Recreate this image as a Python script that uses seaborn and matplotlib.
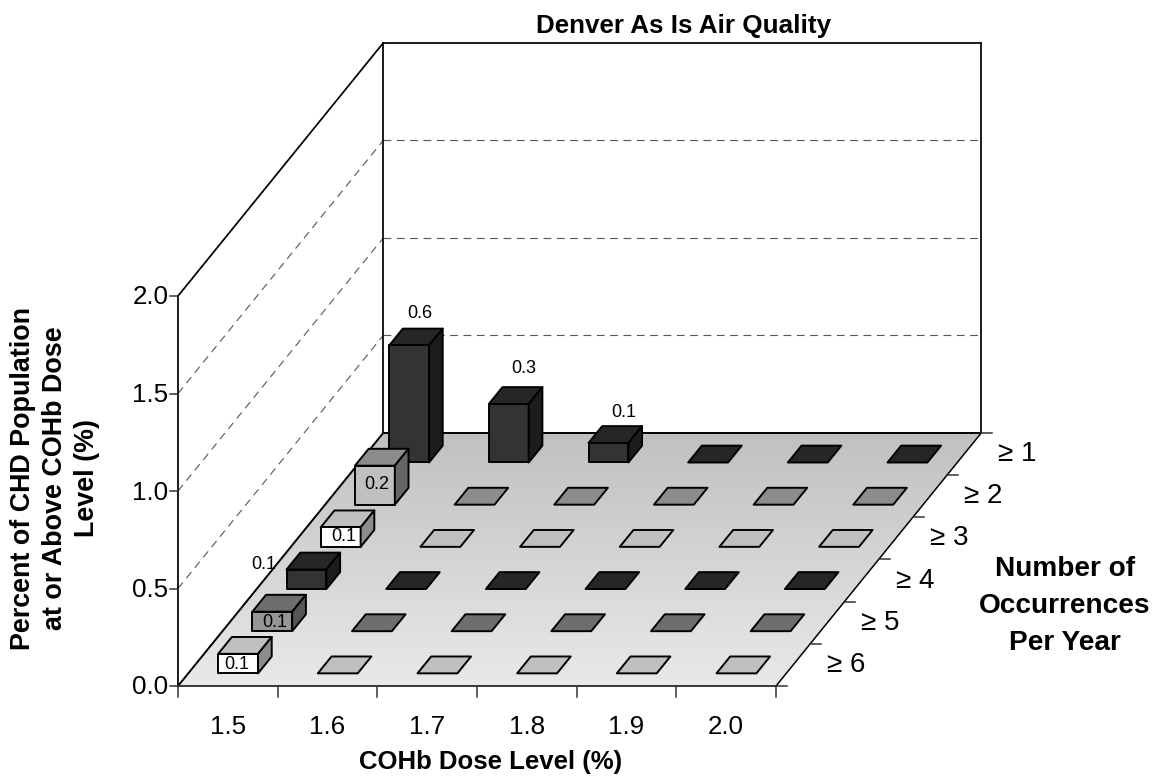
import numpy as np
import pandas as pd
import matplotlib
matplotlib.use("Agg")
import matplotlib.pyplot as plt
from matplotlib.patches import Polygon
import seaborn as sns

# values, back row first
dose_levels = ["1.5", "1.6", "1.7", "1.8", "1.9", "2.0"]
occurrences = ["≥ 1", "≥ 2", "≥ 3", "≥ 4", "≥ 5", "≥ 6"]
row_1 = [0.6, 0.3, 0.1, 0, 0, 0]
row_2 = [0.2, 0, 0, 0, 0, 0]
row_3 = [0.1, 0, 0, 0, 0, 0]
row_4 = [0.1, 0, 0, 0, 0, 0]
row_5 = [0.1, 0, 0, 0, 0, 0]
row_6 = [0.1, 0, 0, 0, 0, 0]
z_ticks = [0.0, 0.5, 1.0, 1.5, 2.0]

# per row colours: front, top, side
front_colors = ["#333333", "#c0c0c0", "#ffffff", "#333333", "#969696", "#ffffff"]
top_colors = ["#262626", "#8c8c8c", "#c0c0c0", "#262626", "#6e6e6e", "#c0c0c0"]
side_colors = ["#1c1c1c", "#666666", "#8c8c8c", "#1c1c1c", "#555555", "#8c8c8c"]

# hand placed value labels in the original, (row, col): pixel offset
label_offsets = {
    (0, 0): (4, -25), (0, 1): (8, -28), (0, 2): (8, -23),
    (1, 0): (-5, 26), (2, 0): (-3.5, 17), (3, 0): (-50, 2),
    (4, 0): (-4, 18), (5, 0): (-8, 18),
}

df = pd.DataFrame([row_1, row_2, row_3, row_4, row_5, row_6],
                  index=occurrences, columns=dose_levels)
long_df = df.reset_index(names="occ").melt(id_vars="occ", var_name="dose", value_name="pct")

sns.set_style("white")
plt.rcParams["font.family"] = ["Liberation Sans", "DejaVu Sans"]
plt.rcParams["text.color"] = "black"

fig = plt.figure(figsize=(11.59, 7.82), dpi=100)
ax = fig.add_axes([0, 0, 1, 1])
ax.axis("off")

# oblique projection, pixels of the page
X0, Y0 = 178, 686
COL_W, DEPTH_X, DEPTH_Y, UNIT_Z = 99.67, 34.2, 42.17, 195
n_cols, n_rows = len(dose_levels), len(occurrences)


def proj(col, depth, z=0):
    return X0 + col * COL_W + depth * DEPTH_X, Y0 - depth * DEPTH_Y - z * UNIT_Z


def seg(a, b, **kw):
    ax.plot([a[0], b[0]], [a[1], b[1]], solid_capstyle="projecting", **kw)


# floor with a gradient
floor_pts = [proj(0, 0), proj(n_cols, 0), proj(n_cols, n_rows), proj(0, n_rows)]
grad = np.linspace(0, 1, 256).reshape(-1, 1)
fl = ax.imshow(grad, cmap=sns.blend_palette(["#c0c0c0", "#e9e9e9"], as_cmap=True),
               extent=[X0, proj(n_cols, n_rows)[0], Y0, proj(0, n_rows)[1]],
               aspect="auto", vmin=0, vmax=1, zorder=1)
fl.set_clip_path(Polygon(floor_pts, transform=ax.transData))

# walls
wall = dict(color="black", lw=1.25, zorder=2)
z_top = z_ticks[-1]
seg(proj(0, 0), proj(0, 0, z_top), **wall)
seg(proj(0, 0, z_top), proj(0, n_rows, z_top), **wall)
seg(proj(0, n_rows), proj(0, n_rows, z_top), **wall)
seg(proj(0, n_rows, z_top), proj(n_cols, n_rows, z_top), **wall)
seg(proj(n_cols, n_rows), proj(n_cols, n_rows, z_top), **wall)
seg(proj(0, n_rows), proj(n_cols, n_rows), color="black", lw=1.4, zorder=2)
seg(proj(0, 0), proj(0, n_rows), color="black", lw=1.4, zorder=2)
seg(proj(0, 0), proj(n_cols, 0), color="#222222", lw=1.25, zorder=2)
seg(proj(n_cols, 0), proj(n_cols, n_rows), color="black", lw=1.1, zorder=2)

# dashed grid on the walls
for z in z_ticks[1:-1]:
    for a, b in [(proj(0, 0, z), proj(0, n_rows, z)),
                 (proj(0, n_rows, z), proj(n_cols, n_rows, z))]:
        ax.plot([a[0], b[0]], [a[1], b[1]], color="#555555", lw=0.8,
                dashes=(7, 5), zorder=1.5)

# ticks
tick = dict(color="#333333", lw=1.1, zorder=2)
for z in z_ticks:
    x, y = proj(0, 0, z)
    seg((x - 8, y), (x, y), **tick)
    ax.text(x - 9.5, y + 1.5, f"{z:.1f}", ha="right", va="center", fontsize=18.7)
for c in range(n_cols + 1):
    x, y = proj(c, 0)
    seg((x, y), (x, y + 11), **tick)
for d in range(n_rows + 1):
    x, y = proj(n_cols, d)
    seg((x, y), (x + 11, y), **tick)
for c, lab in enumerate(dose_levels):
    x, y = proj(c + 0.5, 0)
    ax.text(x, y + 41, lab, ha="center", va="center", fontsize=18.7)
for r, lab in enumerate(occurrences):
    x, y = proj(n_cols, n_rows - 1 - r + 0.5)
    ax.text(x + 34, y, lab, ha="left", va="center", fontsize=20)

# bars, back row first so the front ones sit on top
edge = dict(edgecolor="black", linewidth=1.4, joinstyle="round", zorder=3)
for _, rec in long_df.iterrows():
    r = occurrences.index(rec["occ"])
    c = dose_levels.index(rec["dose"])
    v = rec["pct"]
    d = n_rows - 1 - r
    x0, x1 = c + 0.3, c + 0.7
    d0, d1 = d + 0.3, d + 0.7
    ax.add_patch(Polygon([proj(x0, d0, v), proj(x1, d0, v), proj(x1, d1, v), proj(x0, d1, v)],
                         facecolor=top_colors[r], **edge))
    if v > 0:
        ax.add_patch(Polygon([proj(x0, d0), proj(x1, d0), proj(x1, d0, v), proj(x0, d0, v)],
                             facecolor=front_colors[r], **edge))
        ax.add_patch(Polygon([proj(x1, d0), proj(x1, d1), proj(x1, d1, v), proj(x1, d0, v)],
                             facecolor=side_colors[r], **edge))

# value labels
for (r, c), (dx, dy) in label_offsets.items():
    v = df.iloc[r, c]
    x, y = proj(c + 0.5, n_rows - 1 - r + 0.5, v)
    ax.text(x + dx, y + dy + 1, f"{v:.1f}", ha="center", va="center", fontsize=13, zorder=5)

# titles
ax.text(684, 26, "Denver As Is Air Quality", ha="center", va="center",
        fontsize=18.7, fontweight="bold")
ax.text(491, 762, "COHb Dose Level (%)", ha="center", va="center",
        fontsize=18.5, fontweight="bold")
ax.text(55, 478, "Percent of CHD Population\nat or Above COHb Dose\nLevel (%)", rotation=90,
        ha="center", va="center", ma="center", fontsize=19.4, fontweight="bold", linespacing=1.29)
ax.text(1065, 606, "Number of\nOccurrences\nPer Year", ha="center", va="center",
        ma="center", fontsize=20.2, fontweight="bold", linespacing=1.57)

ax.set_xlim(0, 1159)
ax.set_ylim(782, 0)
fig.savefig("out.png", dpi=100)
